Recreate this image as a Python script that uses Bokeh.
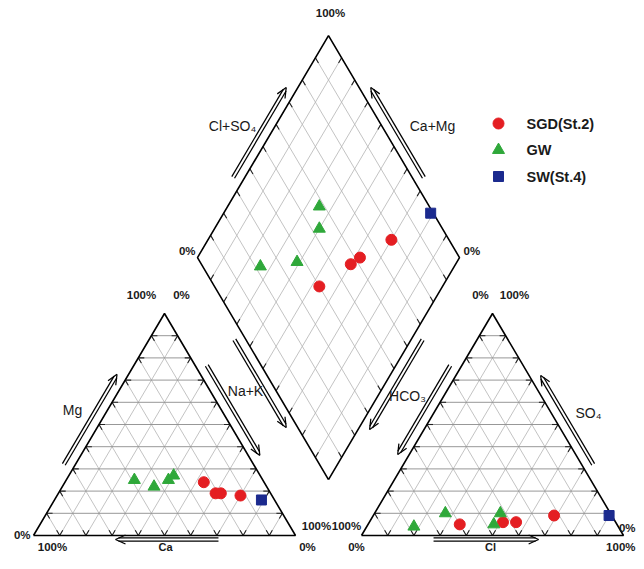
import numpy as np
from bokeh.plotting import figure
from bokeh.models import Range1d
from bokeh.embed import file_html
from bokeh.resources import INLINE
from bokeh.core.properties import value

# ---------------- data (percent of meq) ----------------
series_names = ["SGD(St.2)", "GW", "SW(St.4)"]

sgd_ca = [23, 21, 19, 12]
sgd_mg = [24, 19, 19, 18]
sgd_nak = [53, 60, 62, 70]
sgd_hco3 = [60, 43, 38, 22]
sgd_cl = [35, 51, 56, 69]
sgd_so4 = [5, 6, 6, 9]

gw_ca = [49, 43, 36, 33]
gw_mg = [25, 22, 25, 27]
gw_nak = [26, 35, 39, 40]
gw_hco3 = [78, 42, 63, 47]
gw_cl = [18, 48, 27, 48]
gw_so4 = [4, 10, 10, 5]

sw_ca = [5]
sw_mg = [16]
sw_nak = [79]
sw_hco3 = [1]
sw_cl = [90]
sw_so4 = [9]

grid_steps = [10, 20, 30, 40, 50, 60, 70, 80, 90]

# ---------------- geometry (plot coords ~ picture pixels) ----------------
X0, Y0 = 33.0, 538.0
S = 262.0     # triangle side (px)
TH = 222.0    # triangle height (px)
GAP = 66.0

A = np.array([X0, Y0]); B = A + [S, 0]; C = A + [S / 2, -TH]
D = A + [S + GAP, 0]; E = D + [S, 0]; F = D + [S / 2, -TH]
DB = np.array([X0 + S + GAP / 2, Y0 - GAP * TH / S])
UPR = np.array([S / 2, -TH]); UPL = np.array([-S / 2, -TH])
DL = DB + UPL; DR = DB + UPR; DT = DB + UPR + UPL


def cation_xy(ca, mg, nak):
    tot = np.array(ca) + np.array(mg) + np.array(nak)
    na = np.array(nak) / tot; m = np.array(mg) / tot
    return A[0] + na * S + m * S / 2, A[1] - m * TH


def anion_xy(hco3, cl, so4):
    tot = np.array(hco3) + np.array(cl) + np.array(so4)
    c = np.array(cl) / tot; s = np.array(so4) / tot
    return D[0] + c * S + s * S / 2, D[1] - s * TH


def diamond_xy(ca, mg, nak, hco3, cl, so4):
    ct = np.array(ca) + np.array(mg) + np.array(nak)
    at = np.array(hco3) + np.array(cl) + np.array(so4)
    cc = (np.array(ca) + np.array(mg)) / ct
    aa = (np.array(cl) + np.array(so4)) / at
    return DB[0] + aa * UPR[0] + cc * UPL[0], DB[1] + aa * UPR[1] + cc * UPL[1]


p = figure(width=636, height=553, x_range=Range1d(0, 636), y_range=Range1d(556, 3),
           output_backend="svg", toolbar_location=None, min_border=0,
           x_axis_location=None, y_axis_location=None)
p.grid.visible = False
p.outline_line_color = None
p.background_fill_color = "white"

# grid lines + ticks
hx, hy, dx, dy = [], [], [], []
tx, ty = [], []
TL = 6.0


def add_line(p0, p1, horiz):
    (hx if horiz else dx).append([p0[0], p1[0]])
    (hy if horiz else dy).append([p0[1], p1[1]])
    d = p1 - p0; u = d / np.hypot(*d)
    q = p0 + u * TL; tx.append([p0[0], q[0]]); ty.append([p0[1], q[1]])
    q = p1 - u * TL; tx.append([p1[0], q[0]]); ty.append([p1[1], q[1]])


for P, Q, R in [(A, B, C), (D, E, F)]:
    for g in grid_steps:
        f = g / 100.0
        add_line(P + f * (R - P), Q + f * (R - Q), True)
        add_line(P + f * (Q - P), R + f * (Q - R), False)
        add_line(Q + f * (P - Q), R + f * (P - R), False)
for g in grid_steps:
    f = g / 100.0
    add_line(DL + f * (DT - DL), DB + f * (DR - DB), False)
    add_line(DR + f * (DT - DR), DB + f * (DL - DB), False)

p.multi_line(dx, dy, line_color="#b4b4b4", line_width=0.8)
p.multi_line(hx, hy, line_color="#8c8c8c", line_width=0.9)
p.multi_line(tx, ty, line_color="#222222", line_width=1.1)

# outlines
for poly in [[A, B, C, A], [D, E, F, D], [DB, DR, DT, DL, DB]]:
    p.line([v[0] for v in poly], [v[1] for v in poly], line_color="black", line_width=1.6)

# double-line arrows
ax_, ay_ = [], []


def edge_arrow(v0, v1, t0, t1, centroid, off=10.0):
    d = v1 - v0; u = d / np.hypot(*d)
    n = np.array([-u[1], u[0]])
    mid = v0 + d * 0.5
    if np.dot(n, mid - centroid) < 0:
        n = -n
    p0 = v0 + d * t0 + n * off; p1 = v0 + d * t1 + n * off
    for s in (-1.6, 1.6):
        a0 = p0 + n * s; a1 = p1 - u * 3 + n * s
        ax_.append([a0[0], a1[0]]); ay_.append([a0[1], a1[1]])
    for s in (-1, 1):
        h = p1 - u * 10 + n * 4.5 * s
        ax_.append([p1[0], h[0]]); ay_.append([p1[1], h[1]])


cL = (A + B + C) / 3; cR = (D + E + F) / 3; cD = (DB + DT) / 2
edge_arrow(A, C, 0.297, 0.703, cL)
edge_arrow(C, B, 0.257, 0.662, cL)
edge_arrow(B, A, 0.294, 0.687, cL, off=4.0)
edge_arrow(D, E, 0.275, 0.676, cR, off=4.0)
edge_arrow(F, D, 0.257, 0.658, cR)
edge_arrow(E, F, 0.297, 0.698, cR)
edge_arrow(DL, DT, 0.338, 0.743, cD)
edge_arrow(DR, DT, 0.338, 0.743, cD)
edge_arrow(DL, DB, 0.347, 0.743, cD)
edge_arrow(DR, DB, 0.347, 0.752, cD)
p.multi_line(ax_, ay_, line_color="black", line_width=1.25)

# percent labels
FONT = value("Liberation Sans")
PCT = dict(text_baseline="middle", text_font=FONT, text_font_size="11.5px",
           text_font_style="bold", text_color="#1a1a1a")
labels_c = [
    (DT + [2, -23], "100%"),
    (C + [-23, -19], "100%"), (C + [17, -19], "0%"),
    (F + [-12, -19], "0%"), (F + [22, -19], "100%"),
    (A + [19, 11], "100%"),
    (B + [21, -10], "100%"), (B + [12, 11], "0%"),
    (D + [-15, -10], "100%"), (D + [-5, 11], "0%"),
]
p.text(x=[l[0][0] for l in labels_c], y=[l[0][1] for l in labels_c], text=[l[1] for l in labels_c],
       text_align="center", **PCT)
p.text(x=[DL[0] - 2, A[0] - 3], y=[DL[1] - 7, A[1] - 1], text=["0%", "0%"], text_align="right", **PCT)
p.text(x=[DR[0] + 4], y=[DR[1] - 7], text=["0%"], text_align="left", **PCT)
p.text(x=[635, 635], y=[E[1] - 8, E[1] + 11], text=["0%", "100%"], text_align="right", **PCT)

# component names
names = [
    (DT + [-96, 90], "Cl+SO\u2084"), (DT + [104, 90], "Ca+Mg"),
    (A + [39, -126], "Mg"), (C + [81, 77], "Na+K"),
    (F + [-85, 82], "HCO\u2083"), (F + [96, 99], "SO\u2084"),
]
p.text(x=[l[0][0] for l in names], y=[l[0][1] for l in names], text=[l[1] for l in names],
       text_align="center", text_baseline="middle", text_font=FONT, text_font_size="14px",
       text_color="#1a1a1a")
p.text(x=[(A[0] + B[0]) / 2 + 1, (D[0] + E[0]) / 2 - 2], y=[A[1] + 11, D[1] + 11], text=["Ca", "Cl"],
       text_align="center", text_baseline="middle", text_font=FONT, text_font_size="11px",
       text_font_style="bold", text_color="#1a1a1a")

# data points
RED, GREEN, BLUE = "#e41e22", "#2fa83a", "#1b2a8e"
styles = [
    (sgd_ca, sgd_mg, sgd_nak, sgd_hco3, sgd_cl, sgd_so4, "circle", RED, 11),
    (gw_ca, gw_mg, gw_nak, gw_hco3, gw_cl, gw_so4, "triangle", GREEN, 12),
    (sw_ca, sw_mg, sw_nak, sw_hco3, sw_cl, sw_so4, "square", BLUE, 10),
]
for ca, mg, nak, hco3, cl, so4, mk, col, sz in styles:
    x1, y1 = cation_xy(ca, mg, nak)
    x2, y2 = anion_xy(hco3, cl, so4)
    x3, y3 = diamond_xy(ca, mg, nak, hco3, cl, so4)
    xs = np.concatenate([x1, x2, x3]); ys = np.concatenate([y1, y2, y3])
    p.scatter(xs, ys, marker=mk, size=sz, fill_color=col, line_color=col)

# legend (manual)
LX, LY0, LDY = 498, 126, 26.5
for i, (name, st) in enumerate(zip(series_names, styles)):
    p.scatter([LX], [LY0 + i * LDY], marker=st[6], size=st[8], fill_color=st[7], line_color=st[7])
p.text(x=[LX + 28] * 3, y=[LY0 + i * LDY for i in range(3)], text=series_names,
       text_align="left", text_baseline="middle", text_font=FONT, text_font_size="14.5px",
       text_font_style="bold", text_color="#1a1a1a")

open("out.html", "w").write(file_html(p, INLINE))
